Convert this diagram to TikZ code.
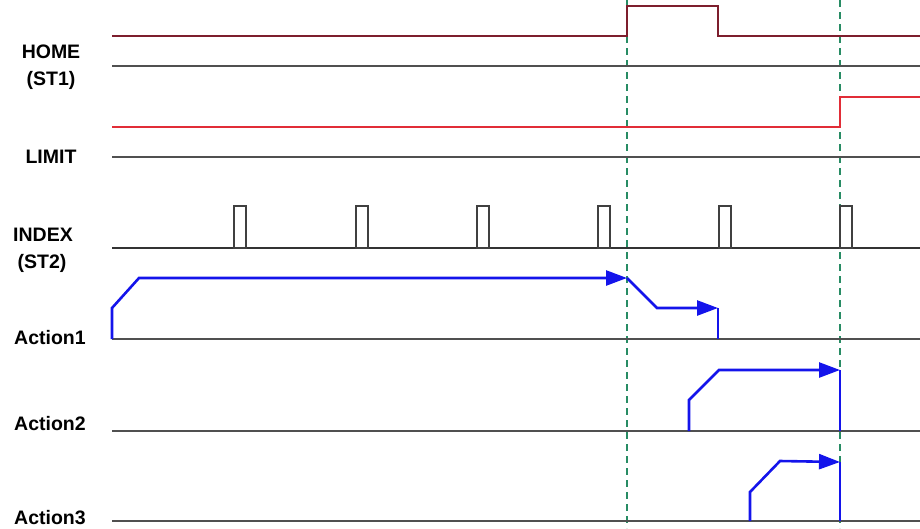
\documentclass[tikz,border=0pt]{standalone}
\usepackage{fontspec}
\setmainfont{Liberation Sans}
\usetikzlibrary{arrows.meta}
\definecolor{homered}{RGB}{125,30,45}
\definecolor{limred}{RGB}{225,45,55}
\definecolor{basegray}{RGB}{80,80,80}
\definecolor{actblue}{RGB}{20,20,235}
\definecolor{dashgreen}{RGB}{40,140,100}
\tikzset{
  lbl/.style={font=\fontsize{19.5}{22}\selectfont\bfseries, align=center, inner sep=0pt},
  baseln/.style={draw=basegray, line width=1.8pt},
  homesig/.style={draw=homered, line width=1.5pt},
  limsig/.style={draw=limred, line width=1.5pt},
  pulse/.style={draw=black!75, line width=1.1pt},
  act/.style={draw=actblue, line width=2.6pt, line join=miter},
  actarrow/.style={act, -{Triangle[length=21pt,width=15pt]}},
  marker/.style={draw=dashgreen, line width=1.1pt, dash pattern=on 7pt off 5pt},
}
\begin{document}
\begin{tikzpicture}[x=1pt,y=-1pt]
\useasboundingbox (0,0) rectangle (920,528);
% labels
\node[lbl] (lhome) at (51,52) {HOME};
\node[lbl] (lst1) at (51,80) {(ST1)};
\node[lbl] (llim) at (51,157) {LIMIT};
\node[lbl] (lidx) at (43,235) {INDEX};
\node[lbl] (lst2) at (42,263) {(ST2)};
\node[lbl] (la1) at (50,338) {Action1};
\node[lbl] (la2) at (50,424) {Action2};
\node[lbl] (la3) at (50,518) {Action3};
% dashed markers
\draw[marker] (627,0) -- (627,528);
\draw[marker] (840,0) -- (840,528);
% HOME
\draw[baseln] (112,66) -- (920,66);
\draw[homesig] (112,36) -- (627,36) -- (627,6) -- (718,6) -- (718,36) -- (920,36);
% LIMIT
\draw[baseln] (112,157) -- (920,157);
\draw[limsig] (112,127) -- (840,127) -- (840,97) -- (920,97);
% INDEX
\draw[draw=black!80, line width=1.3pt] (112,248) -- (920,248);
\foreach \px in {234,356,477,598,719,840}
  \draw[pulse] (\px,248) rectangle ++(12,-42);
% Action baselines
\draw[baseln] (112,339) -- (920,339);
\draw[baseln] (112,431) -- (920,431);
\draw[baseln] (112,521) -- (920,521);
% Action1
\coordinate (a1s) at (112,339);
\coordinate (a1t) at (627,278);
\coordinate (a1u) at (718,308);
\coordinate (a1e) at (718,339);
\draw[actarrow] (a1s) -- (112,308) -- (139,278) -- (a1t);
\draw[actarrow] (a1t) -- (657,308) -- (a1u);
\draw[act] (a1u) -- (a1e);
% Action2
\coordinate (a2s) at (689,431);
\coordinate (a2t) at (840,370);
\coordinate (a2e) at (840,431);
\draw[actarrow] (a2s) -- (689,400) -- (719,370) -- (a2t);
\draw[act] (a2t) -- (a2e);
% Action3
\coordinate (a3s) at (750,521);
\coordinate (a3t) at (840,462);
\coordinate (a3e) at (840,521);
\draw[actarrow] (a3s) -- (750,492) -- (780,461) -- (a3t);
\draw[act] (a3t) -- (a3e);
\end{tikzpicture}
\end{document}
